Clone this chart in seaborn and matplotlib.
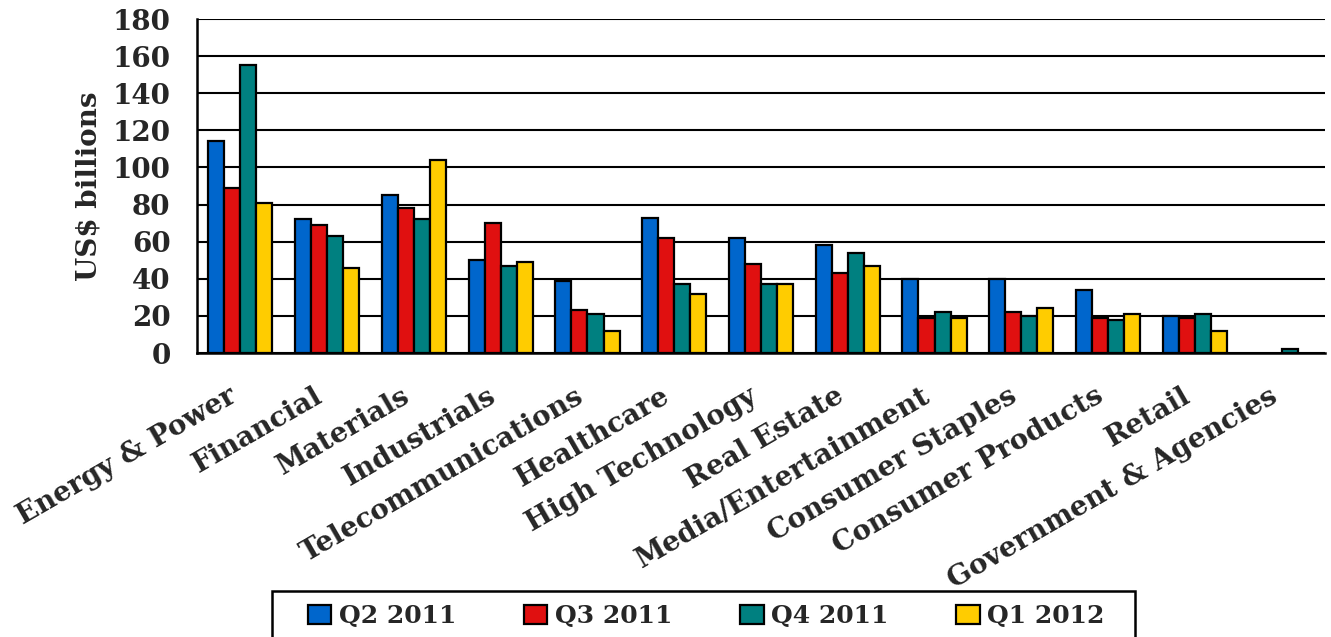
import numpy as np
import pandas as pd
import matplotlib
matplotlib.use("Agg")
import matplotlib.pyplot as plt
import matplotlib.transforms as mtransforms
from matplotlib.patches import Rectangle
from matplotlib.ticker import FixedLocator
import seaborn as sns

sectors = ["Energy & Power", "Financial", "Materials", "Industrials",
           "Telecommunications", "Healthcare", "High Technology", "Real Estate",
           "Media/Entertainment", "Consumer Staples", "Consumer Products",
           "Retail", "Government & Agencies"]
quarters = ["Q2 2011", "Q3 2011", "Q4 2011", "Q1 2012"]

q2_2011 = [114, 72, 85, 50, 39, 73, 62, 58, 40, 40, 34, 20, np.nan]
q3_2011 = [89, 69, 78, 70, 23, 62, 48, 43, 19, 22, 19, 19, np.nan]
q4_2011 = [155, 63, 72, 47, 21, 37, 37, 54, 22, 20, 18, 21, 2]
q1_2012 = [81, 46, 104, 49, 12, 32, 37, 47, 19, 24, 21, 12, np.nan]

colors = ["#0066CC", "#E01010", "#008080", "#FFCC00"]
yticks = [0, 20, 40, 60, 80, 100, 120, 140, 160, 180]

df = pd.DataFrame({
    "sector": sectors * 4,
    "quarter": np.repeat(quarters, len(sectors)),
    "value": q2_2011 + q3_2011 + q4_2011 + q1_2012,
})

sns.set_theme(style="white")
plt.rcParams["font.family"] = ["DejaVu Serif"]
plt.rcParams["font.weight"] = "bold"

W, H = 1331, 637
fig = plt.figure(figsize=(W / 100, H / 100), dpi=100)
ax = fig.add_axes([197 / W, 1 - 353 / H, (1325 - 197) / W, (353 - 19) / H])

sns.barplot(data=df, x="sector", y="value", hue="quarter", order=sectors,
            hue_order=quarters, palette=colors, saturation=1, width=0.74, gap=0,
            edgecolor="black", linewidth=1.6, errorbar=None, ax=ax, zorder=3)

ax.set_xlim(-0.5, len(sectors) - 0.5)
ax.set_ylim(0, 180)
ax.set_yticks(yticks)
ax.set_yticklabels([str(t) for t in yticks], fontsize=20, fontweight="bold")
ax.yaxis.grid(True, color="black", linewidth=1.5, zorder=0)
ax.set_axisbelow(True)

for s in ["top", "right"]:
    ax.spines[s].set_visible(False)
for s in ["left", "bottom"]:
    ax.spines[s].set_color("black")
    ax.spines[s].set_linewidth(1.8)

ax.tick_params(axis="y", direction="out", length=7, width=1.5, color="black", pad=12)
ax.tick_params(axis="x", which="major", length=0, pad=9)
ax.xaxis.set_minor_locator(FixedLocator(np.arange(-0.5, len(sectors), 1.0)))
ax.tick_params(axis="x", which="minor", direction="out", length=6, width=1.5, color="black")

ax.set_xticks(range(len(sectors)))
ax.set_xticklabels(sectors, rotation=30, ha="right", va="top",
                   rotation_mode="anchor", fontsize=20, fontweight="bold")
shift = mtransforms.ScaledTranslation(-13 / 100, -17 / 100, fig.dpi_scale_trans)
for lbl in ax.get_xticklabels():
    lbl.set_transform(lbl.get_transform() + shift)

ax.set_xlabel("")
ax.set_ylabel("US$ billions", fontsize=20, fontweight="bold", labelpad=7)

# legend row under the category labels, framed by an open-bottomed box
ax.get_legend().remove()
handles, labels = ax.get_legend_handles_labels()
leg = fig.legend(handles[:4], labels[:4], loc="center",
                 bbox_to_anchor=(706 / W, 1 - 616 / H), ncol=4,
                 frameon=False, prop={"size": 18, "weight": "bold"},
                 handlelength=0.95, handleheight=0.8, handletextpad=0.3,
                 columnspacing=2.7, borderpad=0, borderaxespad=0)
fig.add_artist(Rectangle((272 / W, -0.05), (1135 - 272) / W, 0.05 + 1 - 591 / H,
                         transform=fig.transFigure, facecolor="none",
                         edgecolor="black", linewidth=1.8))

fig.savefig("out.png", dpi=100)
